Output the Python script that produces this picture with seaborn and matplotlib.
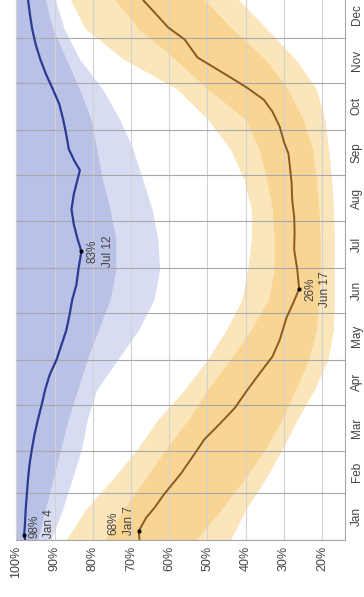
import matplotlib
matplotlib.use("Agg")
import matplotlib.pyplot as plt
import seaborn as sns
import pandas as pd

# ---- calendar ----
MONTHS = ["Jan", "Feb", "Mar", "Apr", "May", "Jun",
          "Jul", "Aug", "Sep", "Oct", "Nov", "Dec"]
MONTH_STARTS = [0, 31, 59, 90, 120, 151, 181, 212, 243, 273, 304, 334, 365]
PCT_TICKS = [20, 30, 40, 50, 60, 70, 80, 90, 100]

# ---- blue series: median by day of year ----
BLUE_DAYS = [0, 3, 10, 20, 30, 40, 50, 60, 70, 80, 90, 100, 110, 120, 130,
             140, 150, 160, 170, 180, 192, 200, 210, 220, 230, 240, 246, 252,
             260, 270, 280, 290, 300, 310, 320, 330, 340, 350, 360, 365]
BLUE_MEDIAN = [97.7, 98.0, 97.8, 97.6, 97.3, 97.0, 96.6, 96.0, 95.3, 94.4,
               93.4, 92.5, 91.3, 89.5, 88.2, 86.9, 86.1, 85.4, 84.3, 83.8,
               83.0, 84.0, 85.0, 85.6, 85.0, 84.0, 83.4, 84.8, 86.3, 87.0,
               87.8, 88.8, 90.5, 92.3, 93.8, 95.0, 95.9, 96.5, 97.0, 97.4]

# ---- blue series: percentile bands ----
BAND_DAYS = [0, 20, 40, 60, 80, 100, 120, 140, 160, 180, 200, 220, 240, 260,
             280, 300, 320, 340, 365]
BLUE_P90 = [100] * 19
BLUE_P75 = [100] * 19
BLUE_P25 = [94.5, 92.5, 90.5, 88.5, 86.5, 84.0, 81.5, 78.5, 75.5, 74.0,
            74.0, 75.5, 77.5, 79.0, 80.5, 83.5, 87.0, 90.5, 93.0]
BLUE_P10 = [91.0, 88.0, 85.5, 83.0, 81.5, 79.0, 73.5, 68.0, 64.0, 62.5,
            63.0, 64.5, 67.0, 69.5, 73.0, 77.5, 83.5, 87.5, 90.5]

# ---- orange series: median by day of year ----
ORANGE_DAYS = [0, 6, 15, 22, 30, 44, 55, 67, 78, 88, 100, 111, 122, 133, 148,
               158, 167, 180, 193, 205, 215, 226, 238, 250, 257, 265, 275, 285,
               293, 301, 307, 313, 321, 333, 341, 353, 359, 365]
ORANGE_MEDIAN = [67.8, 68.0, 66.0, 63.7, 61.5, 57.0, 54.0, 50.8, 46.5, 42.8,
                 39.5, 36.3, 33.0, 31.1, 29.3, 27.5, 26.0, 26.5, 27.3, 27.2,
                 27.3, 27.8, 28.0, 28.5, 28.8, 30.0, 31.1, 33.0, 35.3, 39.7,
                 43.5, 47.4, 52.6, 56.0, 60.3, 64.6, 66.8, 67.6]

# ---- orange series: percentile bands ----
ORANGE_P90 = [87.0, 82.0, 75.0, 68.5, 63.0, 56.0, 50.0, 45.0, 41.0, 39.5,
              38.5, 38.5, 40.5, 44.0, 50.0, 58.0, 72.0, 82.0, 87.0]
ORANGE_P75 = [77.0, 72.0, 66.5, 61.0, 55.0, 50.0, 44.0, 38.5, 34.0, 32.5,
              32.5, 33.0, 34.5, 36.5, 40.0, 50.0, 58.5, 68.0, 76.0]
ORANGE_P25 = [53.0, 46.5, 40.5, 35.0, 30.5, 27.0, 23.5, 21.5, 20.8, 20.5,
              20.5, 20.8, 21.5, 22.5, 25.0, 29.0, 35.0, 43.5, 53.0]
ORANGE_P10 = [44.0, 40.0, 35.0, 30.5, 26.5, 22.0, 18.5, 17.0, 16.8, 16.8,
              16.8, 17.0, 17.5, 18.3, 19.3, 21.5, 27.0, 34.5, 44.0]

# ---- labelled extremes: (value, day, text) ----
BLUE_HIGH = (98, 3, "98%\nJan 4")
BLUE_LOW = (83, 192, "83%\nJul 12")
ORANGE_HIGH = (68, 6, "68%\nJan 7")
ORANGE_LOW = (26, 167, "26%\nJun 17")

BLUE_LINE = "#2c3a92"
BLUE_DARK = "#b9c1e6"
BLUE_LIGHT = "#d8dcf2"
ORANGE_LINE = "#8a5a20"
ORANGE_DARK = "#f8d592"
ORANGE_LIGHT = "#fbe5bb"
TEXT = "#444444"

sns.set_theme(style="white")
plt.rcParams["font.family"] = ["Liberation Sans", "DejaVu Sans"]

fig = plt.figure(figsize=(3.64, 5.97), dpi=100)
ax = fig.add_axes([0.0453, 0.0955, 0.9025, 0.919])

bands = pd.DataFrame({
    "day": BAND_DAYS,
    "b90": BLUE_P90, "b75": BLUE_P75, "b25": BLUE_P25, "b10": BLUE_P10,
    "o90": ORANGE_P90, "o75": ORANGE_P75, "o25": ORANGE_P25, "o10": ORANGE_P10,
})

# percentile bands (value axis is horizontal, day axis vertical)
ax.fill_betweenx(bands["day"], bands["b10"], bands["b90"], color=BLUE_LIGHT, lw=0, zorder=1)
ax.fill_betweenx(bands["day"], bands["b25"], bands["b75"], color=BLUE_DARK, lw=0, zorder=1)
ax.fill_betweenx(bands["day"], bands["o10"], bands["o90"], color=ORANGE_LIGHT, lw=0, zorder=1)
ax.fill_betweenx(bands["day"], bands["o25"], bands["o75"], color=ORANGE_DARK, lw=0, zorder=1)

blue = pd.DataFrame({"day": BLUE_DAYS, "value": BLUE_MEDIAN})
orange = pd.DataFrame({"day": ORANGE_DAYS, "value": ORANGE_MEDIAN})
sns.lineplot(data=blue, x="value", y="day", orient="y", color=BLUE_LINE,
             lw=1.6, ax=ax, zorder=4)
sns.lineplot(data=orange, x="value", y="day", orient="y", color=ORANGE_LINE,
             lw=1.4, ax=ax, zorder=4)

marks = pd.DataFrame({
    "value": [BLUE_HIGH[0], BLUE_LOW[0], ORANGE_HIGH[0], ORANGE_LOW[0]],
    "day": [BLUE_HIGH[1], BLUE_LOW[1], ORANGE_HIGH[1], ORANGE_LOW[1]],
})
sns.scatterplot(data=marks, x="value", y="day", color="black", s=9,
                linewidth=0, ax=ax, zorder=5)

txt = dict(rotation=90, fontsize=8.5, color=TEXT, textcoords="offset points",
           linespacing=1.3, zorder=6)
ax.annotate(BLUE_HIGH[2], xy=BLUE_HIGH[:2], xytext=(3, -2),
            ha="left", va="bottom", multialignment="left", **txt)
ax.annotate(BLUE_LOW[2], xy=BLUE_LOW[:2], xytext=(4, 0),
            ha="left", va="center", multialignment="center", **txt)
ax.annotate(ORANGE_HIGH[2], xy=ORANGE_HIGH[:2], xytext=(-3, -3),
            ha="right", va="bottom", multialignment="left", **txt)
ax.annotate(ORANGE_LOW[2], xy=ORANGE_LOW[:2], xytext=(4, 0),
            ha="left", va="center", multialignment="center", **txt)

# axes: value runs 100% -> 14% left to right, days bottom to top
ax.set_xlim(100, 14)
ax.set_ylim(0, 365)
ax.set_xticks(PCT_TICKS)
ax.set_xticklabels([f"{p}%" for p in PCT_TICKS], rotation=90, fontsize=9, color=TEXT)
ax.set_yticks([(a + b) / 2 for a, b in zip(MONTH_STARTS[:-1], MONTH_STARTS[1:])])
ax.set_yticklabels(MONTHS, rotation=90, fontsize=8.5, color=TEXT, va="center")
ax.set_yticks(MONTH_STARTS, minor=True)
ax.yaxis.tick_right()
ax.tick_params(axis="x", length=0, pad=4)
ax.tick_params(axis="y", which="both", length=0, pad=4)
ax.set_xlabel("")
ax.set_ylabel("")

ax.grid(False)
ax.xaxis.grid(True, which="major", color="#d2d2d2", lw=0.8, zorder=2)
ax.yaxis.grid(True, which="minor", color="#a8a8a8", lw=0.8, zorder=2)
ax.set_axisbelow(False)
for spine in ax.spines.values():
    spine.set_color("#a8a8a8")
    spine.set_linewidth(0.8)

fig.savefig("out.png", dpi=100)
